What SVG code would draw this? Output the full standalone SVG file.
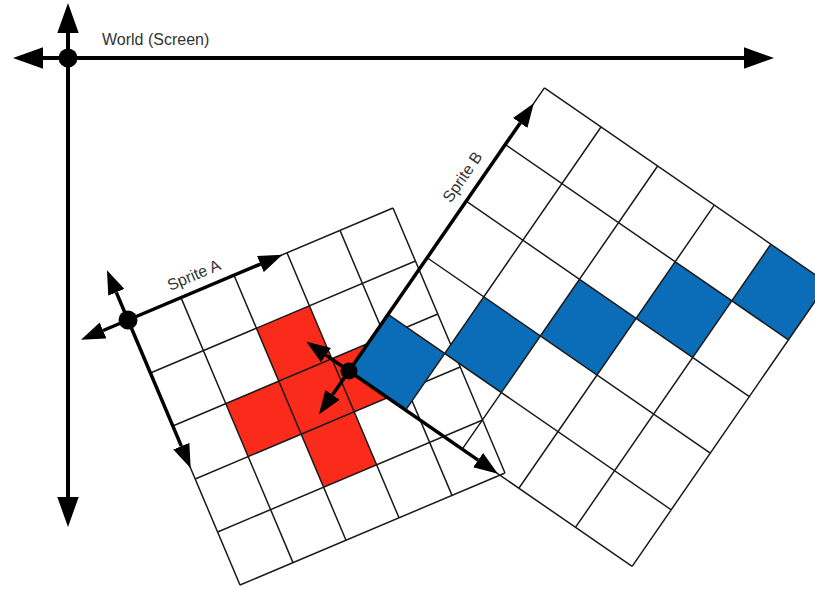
<svg xmlns="http://www.w3.org/2000/svg" width="815" height="590" viewBox="0 0 815 590">
<style>
.grid{fill:none;stroke:#1a1a1a;stroke-width:1.5}
.red{fill:#fb2b1c}
.blue{fill:#0b6db7}
.ax{stroke:#000;stroke-width:4;fill:none}
.sax{stroke:#000;stroke-width:3.5;fill:none}
.lbl{font-family:"Liberation Sans",Arial,sans-serif;font-size:16px;fill:#333}
</style>
<defs>
<marker id="bigHead" markerUnits="userSpaceOnUse" markerWidth="30" markerHeight="22" refX="0" refY="10" orient="auto-start-reverse" viewBox="0 0 28 20">
<path d="M0,0 L28,10 L0,20 Z" fill="#000"/>
</marker>
<marker id="head" markerUnits="userSpaceOnUse" markerWidth="24" markerHeight="18" refX="0" refY="8" orient="auto" viewBox="0 0 22 16">
<path d="M0,0 L22,8 L0,16 Z" fill="#000"/>
</marker>
</defs>
<rect width="815" height="590" fill="#fff"/>

<g id="spriteA" transform="translate(128,320) rotate(-22.91)">
<rect class="red" x="115.08" y="57.54" width="57.54" height="57.54"/>
<rect class="red" x="57.54" y="115.08" width="57.54" height="57.54"/>
<rect class="red" x="115.08" y="115.08" width="57.54" height="57.54"/>
<rect class="red" x="172.62" y="115.08" width="57.54" height="57.54"/>
<rect class="red" x="115.08" y="172.62" width="57.54" height="57.54"/>
<path class="grid" d="M0,0H287.7M0,57.54H287.7M0,115.08H287.7M0,172.62H287.7M0,230.16H287.7M0,287.7H287.7M0,0V287.7M57.54,0V287.7M115.08,0V287.7M172.62,0V287.7M230.16,0V287.7M287.7,0V287.7"/>
</g>

<g id="spriteB" transform="translate(349,371) rotate(34.61)">
<rect class="blue" x="0" y="-68.8" width="68.8" height="68.8"/>
<rect class="blue" x="68.8" y="-137.6" width="68.8" height="68.8"/>
<rect class="blue" x="137.6" y="-206.4" width="68.8" height="68.8"/>
<rect class="blue" x="206.4" y="-275.2" width="68.8" height="68.8"/>
<rect class="blue" x="275.2" y="-344" width="68.8" height="68.8"/>
<path class="grid" d="M0,0H344M0,-68.8H344M0,-137.6H344M0,-206.4H344M0,-275.2H344M0,-344H344M0,0V-344M68.8,0V-344M137.6,0V-344M206.4,0V-344M275.2,0V-344M344,0V-344"/>
</g>

<g id="connectors">
<line id="worldY" class="ax" x1="68" y1="33" x2="68" y2="497" marker-start="url(#bigHead)" marker-end="url(#bigHead)"/>
<line id="worldX" class="ax" x1="43" y1="58" x2="744" y2="58" marker-start="url(#bigHead)" marker-end="url(#bigHead)"/>
<g id="axesA" transform="translate(128,320) rotate(-22.91)">
<line class="sax" x1="0" y1="0" x2="143.7" y2="0" marker-end="url(#head)"/>
<line class="sax" x1="0" y1="0" x2="0" y2="137" marker-end="url(#head)"/>
<line class="sax" x1="0" y1="0" x2="0" y2="-30" marker-end="url(#head)"/>
<line class="sax" x1="0" y1="0" x2="-27" y2="0" marker-end="url(#head)"/>
</g>
<g id="axesB" transform="translate(349,371) rotate(34.61)">
<line class="sax" x1="0" y1="0" x2="0" y2="-301.4" marker-end="url(#head)"/>
<line class="sax" x1="0" y1="0" x2="156.9" y2="0" marker-end="url(#head)"/>
<line class="sax" x1="0" y1="0" x2="-28" y2="0" marker-end="url(#head)"/>
<line class="sax" x1="0" y1="0" x2="0" y2="29" marker-end="url(#head)"/>
</g>
</g>

<g id="origins">
<circle id="worldOrigin" cx="68" cy="58" r="9.5" fill="#000"/>
<circle id="originA" cx="128" cy="320" r="9.5" fill="#000"/>
<circle id="originB" cx="349" cy="371" r="8.5" fill="#000"/>
</g>

<g id="labels">
<text class="lbl" x="102" y="45">World (Screen)</text>
<text class="lbl" text-anchor="middle" transform="translate(196,280) rotate(-22.91)">Sprite A</text>
<text class="lbl" text-anchor="middle" transform="translate(467,180) rotate(-55.39)">Sprite B</text>
</g>
</svg>
